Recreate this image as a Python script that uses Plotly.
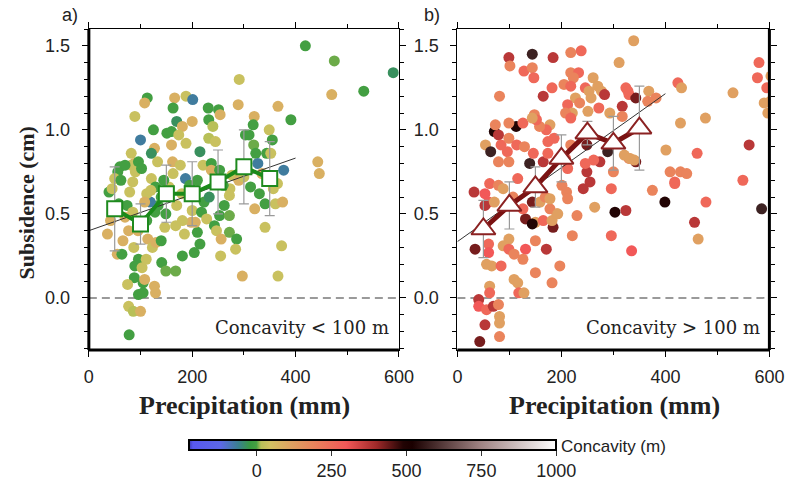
import plotly.graph_objects as go

# ---------------- data ----------------
# Panel a: concavity < 100 m
a_precip = [419,475,470,532,589,391,443,446,113,108,89,166,163,188,201,170,181,200,231,251,
            254,232,240,291,289,320,318,349,366,125,100,127,121,151,160,174,160,188,215,232,
            245,303,310,319,323,327,344,352,355,377,82,88,82,96,133,60,70,56,50,39,
            79,85,90,102,121,129,162,163,177,187,221,237,237,253,273,277,357,36,42,55,
            64,66,74,85,77,87,96,89,103,88,105,75,96,105,77,86,100,78,127,129,
            111,108,114,123,130,140,141,149,168,181,185,204,215,210,206,198,181,168,147,149,
            128,134,119,170,200,218,223,233,228,243,247,253,256,262,272,272,272,255,286,284,
            297,313,321,341,341,361,375,373,366,45,62,112,120,140,108,155,180,195,145,210,
            260,290,300,335,365,330,58,70,95,112]
a_subs = [1.50,1.41,1.21,1.23,1.34,1.06,0.81,0.74,1.19,1.16,1.08,1.19,1.13,1.20,1.18,1.05,1.02,1.05,1.13,1.12,
          1.09,1.06,1.02,1.30,1.15,1.08,1.03,1.00,1.14,1.00,0.94,0.89,0.86,0.98,0.99,0.97,0.91,0.92,0.87,0.95,
          0.93,0.97,0.97,0.91,0.86,0.80,0.86,0.86,0.94,0.76,0.86,0.80,0.79,0.81,0.81,0.78,0.79,0.75,0.71,0.63,
          0.63,0.69,0.75,0.77,0.71,0.66,0.81,0.74,0.79,0.71,0.79,0.80,0.76,0.76,0.65,0.73,0.65,0.38,0.46,0.26,
          0.26,0.34,0.55,0.51,0.40,0.30,0.23,0.19,0.18,0.12,0.09,0.08,0.02,0.03,-0.05,-0.08,-0.08,-0.22,0.07,0.03,
          0.23,0.11,0.35,0.30,0.33,0.34,0.21,0.16,0.16,0.25,0.38,0.27,0.32,0.39,0.45,0.45,0.46,0.43,0.42,0.50,
          0.51,0.55,0.57,0.55,0.52,0.51,0.57,0.60,0.47,0.43,0.40,0.49,0.35,0.55,0.49,0.39,0.61,0.25,0.35,0.29,
          0.13,0.66,0.53,0.56,0.42,0.56,0.57,0.31,0.13,0.65,0.70,0.62,0.64,0.60,0.57,0.66,0.62,0.67,0.70,0.70,
          0.67,0.70,0.72,0.74,0.68,0.62,0.56,0.48,0.40,0.46]
a_conc = [-5,5,85,-5,-35,-5,85,85,-5,85,35,85,-5,35,-70,-35,85,85,-5,-5,
          85,-5,15,35,85,85,-5,35,85,-5,-70,85,-35,-5,-5,35,85,35,-35,15,
          35,-5,-5,5,-5,-70,-5,35,-5,-70,35,85,35,-5,35,-5,-5,-5,35,-5,
          35,35,35,-5,35,-5,85,35,35,-70,35,-5,85,-5,35,35,35,85,85,85,
          -5,85,-5,35,85,35,-5,-5,35,-5,-5,35,-5,-5,35,15,85,-5,85,85,
          35,85,85,35,85,-5,-5,5,5,-5,35,-5,-5,-5,85,85,35,35,35,-5,
          -5,-5,-70,35,35,-5,-5,-35,35,-5,35,-5,85,-5,5,5,35,35,-5,35,
          85,-5,85,-5,35,35,85,35,35,35,-5,35,35,-5,85,35,35,-5,-5,-5,
          -5,85,35,85,35,-5,-5,85,85,-5]

# Panel b: concavity > 100 m
b_precip = [339,238,218,184,144,99,101,128,144,147,311,218,233,223,205,218,182,165,246,253,
            261,270,277,283,227,257,235,212,251,272,317,324,330,343,368,382,424,431,530,580,
            577,561,477,429,401,461,409,429,441,418,549,375,300,330,343,274,262,249,249,289,
            221,208,218,293,317,178,171,158,148,152,186,174,218,208,212,246,113,71,79,73,
            99,126,144,81,54,84,99,114,129,96,64,79,99,139,146,165,174,32,53,60,
            53,34,60,60,56,66,84,62,62,41,41,56,69,79,81,81,53,81,43,99,
            88,99,109,131,126,150,171,197,150,182,221,109,116,118,128,150,131,144,184,165,
            182,191,178,201,210,212,62,79,88,71,107,116,126,144,159,169,178,303,324,296,
            335,399,585,456,463,478,418,230,264,242,255,193,296,321,332,340,328,366,
            603,608,595,611,615,602,597,609,620,590]
b_subs = [1.53,1.47,1.46,1.43,1.45,1.43,1.38,1.35,1.37,1.31,1.40,1.34,1.34,1.31,1.27,1.26,1.25,1.20,1.25,1.23,
          1.31,1.26,1.23,1.21,1.19,1.19,1.16,1.15,1.11,1.13,1.14,1.25,1.21,1.19,1.23,1.19,1.28,1.25,1.22,1.40,
          1.31,0.91,1.07,1.04,0.88,0.86,0.75,0.75,0.74,0.69,0.70,0.64,0.75,0.83,0.81,0.81,0.82,0.75,0.91,0.87,
          1.10,1.10,1.07,1.10,1.08,1.03,1.00,1.02,1.09,1.06,0.95,0.93,0.91,0.83,0.77,0.80,1.02,0.99,0.97,1.03,
          1.04,1.04,1.07,1.20,0.91,0.91,0.95,0.91,0.90,0.87,0.87,0.81,0.81,0.80,0.86,0.81,0.86,0.63,0.62,0.57,
          0.55,0.29,0.32,0.27,0.20,0.19,0.19,0.07,0.03,-0.01,-0.05,-0.07,-0.05,-0.04,-0.11,-0.15,-0.16,-0.23,-0.26,0.35,
          0.31,0.29,0.26,0.29,0.23,0.34,0.29,0.19,0.15,0.09,0.37,0.11,0.09,0.03,0.03,0.45,0.47,0.44,0.42,0.46,
          0.46,0.50,0.53,0.67,0.63,0.59,0.68,0.67,0.65,0.57,0.60,0.71,0.53,0.57,0.57,0.60,0.59,0.51,0.52,0.37,
          0.28,0.57,0.53,0.45,0.35,0.57,0.68,0.49,0.54,0.65,0.69,0.50,0.65,0.85,0.83,0.82,1.23,1.17,
          1.32,1.28,1.25,1.25,1.20,1.17,1.10,1.13,1.09,1.16]
b_conc = [120,260,190,370,580,370,190,260,190,260,120,190,260,190,190,260,260,370,260,120,
          120,120,120,370,120,120,190,260,120,260,370,260,260,430,120,190,260,120,120,260,
          260,370,120,120,120,260,190,190,190,260,260,190,190,190,430,370,260,370,430,580,
          120,190,260,120,190,120,260,190,190,260,260,260,190,260,260,260,490,490,370,190,
          190,260,120,190,120,260,190,260,190,260,580,190,190,580,260,370,260,370,300,300,
          370,430,260,300,120,120,260,120,260,370,300,260,370,190,120,120,370,190,430,120,
          120,260,190,300,190,190,370,190,190,190,190,120,120,260,120,120,430,490,430,260,
          120,120,190,190,190,190,260,190,120,120,190,260,260,430,120,190,120,490,370,260,
          300,490,580,370,120,260,260,190,120,370,370,120,260,120,120,120,260,190,
          120,120,260,370,370,120,120,260,120,120]

# binned means and standard deviations
bins = [50, 100, 150, 200, 250, 300, 350]
a_mean = [0.53, 0.44, 0.62, 0.62, 0.69, 0.78, 0.71]
a_err = [0.25, 0.12, 0.17, 0.19, 0.19, 0.22, 0.22]
b_mean = [0.41, 0.55, 0.66, 0.83, 0.98, 0.92, 1.01]
b_err = [0.17, 0.14, 0.12, 0.14, 0.07, 0.16, 0.25]

# linear fits (intercept, slope) and their x extent
a_fit = (0.40, 0.00108)
b_fit = (0.335, 0.0022)
fit_x = [0, 400]

x_ticks = [0, 200, 400, 600]
y_ticks = [0.0, 0.5, 1.0, 1.5]
cb_ticks = [0, 250, 500, 750, 1000]

# ---------------- style ----------------
W, H = 800, 484
def px(x): return x / W
def py(y): return 1 - y / H

CMIN, CMAX = -225, 1000
stops = [(-225, '#3a3ab0'), (-212, '#5858f0'), (-120, '#5d68e6'), (-60, '#3a8090'),
         (-20, '#389a40'), (0, '#46a042'), (15, '#b8c058'), (45, '#d2c262'),
         (110, '#dea462'), (190, '#ea845c'), (300, '#f25858'), (400, '#a02a2a'),
         (490, '#220404'), (520, '#1a0000'), (750, '#a08484'), (1000, '#ffffff')]
colorscale = [[(c - CMIN) / (CMAX - CMIN), col] for c, col in stops]

SANS = 'Liberation Sans'
SERIF = 'Liberation Serif'
TXT = '#222222'

fig = go.Figure()

def add_panel(xr, yr, xp, ys, cs, mean, err, fit, mk, mcol, lcol, msize, lw):
    fig.add_trace(go.Scatter(x=xp, y=ys, mode='markers', xaxis=xr, yaxis=yr,
                             marker=dict(color=cs, coloraxis='coloraxis', size=11, line=dict(width=0)),
                             showlegend=False, hoverinfo='skip'))
    fx = fit_x
    fy = [fit[0] + fit[1] * v for v in fx]
    fig.add_trace(go.Scatter(x=fx, y=fy, mode='lines', xaxis=xr, yaxis=yr,
                             line=dict(color='#333333', width=1), showlegend=False))
    fig.add_trace(go.Scatter(x=bins, y=mean, mode='markers', xaxis=xr, yaxis=yr,
                             marker=dict(color='rgba(0,0,0,0)', size=1),
                             error_y=dict(type='data', array=err, color='#9a9a9a', thickness=1.2, width=5),
                             showlegend=False))
    fig.add_trace(go.Scatter(x=bins, y=mean, mode='lines', xaxis=xr, yaxis=yr,
                             line=dict(color=lcol, width=lw), showlegend=False))
    fig.add_trace(go.Scatter(x=bins, y=mean, mode='markers', xaxis=xr, yaxis=yr,
                             marker=dict(symbol=mk, size=msize, color='white', line=dict(color=mcol, width=2)),
                             showlegend=False))

add_panel('x', 'y', a_precip, a_subs, a_conc, a_mean, a_err, a_fit,
          'square', '#1e8a1e', '#1a8a1a', 15, 4)
add_panel('x2', 'y2', b_precip, b_subs, b_conc, b_mean, b_err, b_fit,
          'triangle-up', '#8b2222', '#7a1212', 21, 5)

axis_common = dict(showline=True, linecolor='black', linewidth=1.2, mirror='allticks',
                   ticks='outside', ticklen=6, tickwidth=1.2, tickcolor='black',
                   showgrid=False, zeroline=False,
                   tickfont=dict(family=SANS, size=18, color=TXT))

xa = dict(axis_common, range=[0, 600], tickvals=x_ticks, ticklabelstandoff=4,
          minor=dict(dtick=100, tick0=0, ticklen=4, tickcolor='black', ticks='outside', showgrid=False))
ya = dict(axis_common, range=[-0.31, 1.60], tickvals=y_ticks, tickformat='.1f', ticklabelstandoff=8,
          minor=dict(dtick=0.1, tick0=0, ticklen=4, tickcolor='black', ticks='outside', showgrid=False))

top, bot = py(29), py(350)
fig.update_layout(
    width=W, height=H, margin=dict(l=0, r=0, t=0, b=0),
    paper_bgcolor='white', plot_bgcolor='white',
    xaxis=dict(xa, domain=[px(86), px(404)], anchor='y'),
    yaxis=dict(ya, domain=[bot, top], anchor='x'),
    xaxis2=dict(xa, domain=[px(464), px(784)], anchor='y2'),
    yaxis2=dict(ya, domain=[bot, top], anchor='x2'),
    coloraxis=dict(cmin=CMIN, cmax=CMAX, colorscale=colorscale,
                   colorbar=dict(orientation='h', x=px(189), xanchor='left', y=py(440), yanchor='top',
                                 len=(556 - 189 + 9) / W, lenmode='fraction', thickness=10,
                                 outlinewidth=2, outlinecolor='black', xpad=0, ypad=0,
                                 tickvals=cb_ticks, ticks='outside', ticklen=5, tickcolor='#333',
                                 tickfont=dict(family=SANS, size=18, color=TXT))),
)

# zero dashed lines and thick frame edges
for xr, yr in [('x', 'y'), ('x2', 'y2')]:
    fig.add_shape(type='line', xref=f'{xr} domain', yref=yr, x0=0, x1=1, y0=0, y1=0,
                  line=dict(color='#7a7a7a', width=1.5, dash='8px,5px'), layer='below')
    fig.add_shape(type='line', xref=f'{xr} domain', yref=f'{yr} domain', x0=0, x1=1, y0=0, y1=0,
                  line=dict(color='black', width=3))
fig.add_shape(type='line', xref='x domain', yref='y domain', x0=0, x1=0, y0=0, y1=1,
              line=dict(color='black', width=3))
fig.add_shape(type='line', xref='x2 domain', yref='y2 domain', x0=1, x1=1, y0=0, y1=1,
              line=dict(color='black', width=3))

ann = [
    dict(text='a)', x=px(67), y=py(15), font=dict(family=SANS, size=18, color=TXT)),
    dict(text='b)', x=px(438), y=py(15), font=dict(family=SANS, size=18, color=TXT)),
    dict(text='Concavity < 100 m', x=px(396), y=py(327), xanchor='right',
         font=dict(family='DejaVu Serif', size=18, color=TXT)),
    dict(text='Concavity > 100 m', x=px(776), y=py(327), xanchor='right',
         font=dict(family='DejaVu Serif', size=18, color=TXT)),
    dict(text='<b>Subsidence (cm)</b>', x=px(22), y=py(203), textangle=-90,
         font=dict(family=SERIF, size=22, color=TXT)),
    dict(text='<b>Precipitation (mm)</b>', x=px(246), y=py(405),
         font=dict(family=SERIF, size=26, color=TXT)),
    dict(text='<b>Precipitation (mm)</b>', x=px(625), y=py(405),
         font=dict(family=SERIF, size=26, color=TXT)),
    dict(text='Concavity (m)', x=px(568), y=py(446), xanchor='left',
         font=dict(family=SANS, size=17, color=TXT)),
]
for a in ann:
    a.setdefault('xanchor', 'center')
    fig.add_annotation(xref='paper', yref='paper', showarrow=False, yanchor='middle', **a)

fig.write_html('out.html')
